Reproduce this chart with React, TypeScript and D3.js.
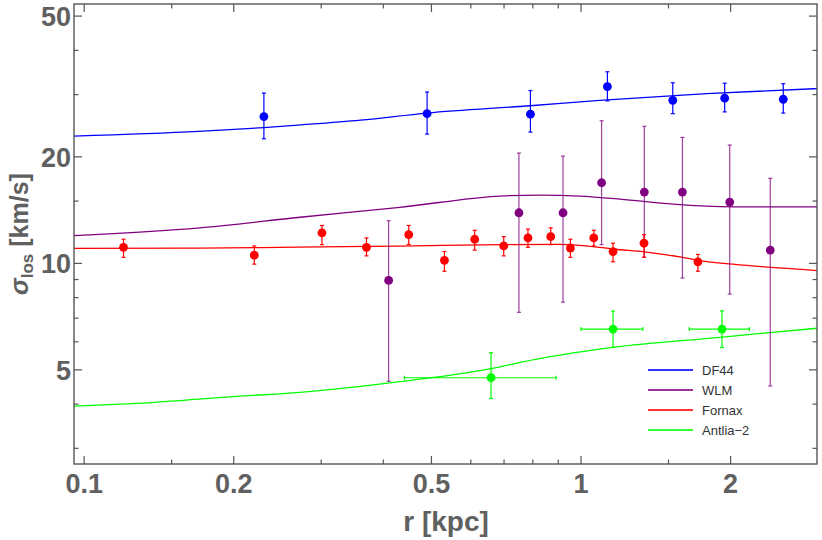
import React from "react";
import * as d3 from "d3";

// ---------- data ----------
const df44R = [0.23, 0.49, 0.791, 1.13, 1.53, 1.946, 2.553];
const df44V = [26.0, 26.5, 26.4, 31.6, 28.9, 29.3, 29.1];
const df44Lo = [22.5, 23.2, 23.5, 28.8, 26.5, 26.8, 26.6];
const df44Hi = [30.3, 30.5, 30.8, 34.8, 32.4, 32.3, 32.2];

const wlmR = [0.41, 0.75, 0.92, 1.1, 1.341, 1.6, 1.992, 2.404];
const wlmV = [8.95, 13.9, 13.9, 16.9, 15.9, 15.9, 14.9, 10.9];
const wlmLo = [4.64, 7.27, 7.77, 11.3, 10.4, 9.09, 8.19, 4.5];
const wlmHi = [13.2, 20.5, 20.1, 25.3, 24.4, 22.7, 21.6, 17.4];

const fornaxR = [0.12, 0.22, 0.301, 0.37, 0.45, 0.531, 0.611, 0.699, 0.782, 0.869, 0.952, 1.061, 1.16, 1.339, 1.719];
const fornaxV = [11.1, 10.55, 12.2, 11.1, 12.05, 10.2, 11.7, 11.2, 11.8, 11.9, 11.05, 11.8, 10.8, 11.4, 10.1];
const fornaxLo = [10.4, 9.95, 11.3, 10.5, 11.3, 9.5, 10.9, 10.5, 11.1, 11.3, 10.4, 11.2, 10.1, 10.4, 9.5];
const fornaxHi = [11.7, 11.2, 12.8, 11.8, 12.8, 10.8, 12.4, 11.9, 12.5, 12.6, 11.7, 12.4, 11.4, 12.05, 10.6];

const antliaR = [0.659, 1.16, 1.922];
const antliaRLo = [0.441, 1.0, 1.652];
const antliaRHi = [0.891, 1.332, 2.182];
const antliaV = [4.75, 6.52, 6.52];
const antliaLo = [4.15, 5.79, 5.78];
const antliaHi = [5.59, 7.33, 7.34];

// model curves
const df44CurveR = [0.095, 0.17, 0.23, 0.27, 0.36, 0.49, 0.79, 1.09, 1.79, 3.0];
const df44CurveV = [22.9, 23.6, 24.2, 24.6, 25.4, 26.6, 27.9, 28.9, 30.2, 31.2];
const wlmCurveR = [0.095, 0.171, 0.272, 0.432, 0.687, 0.827, 0.995, 1.198, 1.531, 2.022, 3.0];
const wlmCurveV = [11.97, 12.6, 13.5, 14.4, 15.5, 15.6, 15.5, 15.2, 14.7, 14.45, 14.45];
const fornaxCurveR = [0.095, 0.17, 0.27, 0.43, 0.69, 0.91, 1.09, 1.16, 1.34, 1.6, 1.72, 2.02, 3.0];
const fornaxCurveV = [11.03, 11.04, 11.12, 11.19, 11.3, 11.32, 11.1, 10.98, 10.78, 10.4, 10.2, 9.95, 9.54];
const antliaCurveR = [0.095, 0.136, 0.199, 0.272, 0.432, 0.687, 0.754, 1.16, 1.904, 3.0];
const antliaCurveV = [3.95, 4.04, 4.2, 4.32, 4.63, 5.1, 5.25, 5.79, 6.18, 6.56];

const xMajor = [0.1, 0.2, 0.5, 1, 2];
const xMajorLabels = ["0.1", "0.2", "0.5", "1", "2"];
const xMinor = [0.15, 0.3, 0.4, 0.6, 0.7, 0.8, 0.9, 1.5];
const yMajor = [5, 10, 20, 50];
const yMajorLabels = ["5", "10", "20", "50"];
const yMinor = [3, 4, 6, 7, 8, 9, 15, 30, 40];

const legendNames = ["DF44", "WLM", "Fornax", "Antlia\u22122"];
const colors = ["#0000ff", "#800080", "#ff0000", "#00ff00"];

// ---------- layout ----------
const W = 822;
const H = 540;
const L = 74;
const R = 817;
const T = 4;
const B = 464;

const x = d3.scaleLog().domain([0.0954, 2.985]).range([L, R]);
const y = d3.scaleLog().domain([2.709, 54.1]).range([B, T]);

const axisColor = "#555555";
const labelColor = "#606060";
const font = "'Liberation Sans', Arial, sans-serif";

type Pt = [number, number];

function zip(a: number[], b: number[]): Pt[] {
  return a.map((v, i) => [v, b[i]] as Pt);
}

const line = d3
  .line<Pt>()
  .x((d) => x(d[0]))
  .y((d) => y(d[1]))
  .curve(d3.curveMonotoneX);

function ErrSeries(props: {
  r: number[];
  v: number[];
  lo: number[];
  hi: number[];
  color: string;
  barOpacity?: number;
  rlo?: number[];
  rhi?: number[];
}) {
  const { r, v, lo, hi, color, barOpacity = 1, rlo, rhi } = props;
  const cap = 2;
  return (
    <g>
      {r.map((ri, i) => {
        const cx = x(ri);
        const cy = y(v[i]);
        const y1 = y(hi[i]);
        const y2 = y(lo[i]);
        return (
          <g key={i}>
            <g stroke={color} strokeWidth={1.2} strokeOpacity={barOpacity} fill="none">
              <line x1={cx} x2={cx} y1={y1} y2={y2} />
              <line x1={cx - cap} x2={cx + cap} y1={y1} y2={y1} />
              <line x1={cx - cap} x2={cx + cap} y1={y2} y2={y2} />
              {rlo && rhi ? (
                <>
                  <line x1={x(rlo[i])} x2={x(rhi[i])} y1={cy} y2={cy} />
                  <line x1={x(rlo[i])} x2={x(rlo[i])} y1={cy - cap} y2={cy + cap} />
                  <line x1={x(rhi[i])} x2={x(rhi[i])} y1={cy - cap} y2={cy + cap} />
                </>
              ) : null}
            </g>
            <circle cx={cx} cy={cy} r={4.4} fill={color} />
          </g>
        );
      })}
    </g>
  );
}

export default function App() {
  const curves = [
    zip(df44CurveR, df44CurveV),
    zip(wlmCurveR, wlmCurveV),
    zip(fornaxCurveR, fornaxCurveV),
    zip(antliaCurveR, antliaCurveV),
  ];
  const majorLen = 8;
  const minorLen = 4.5;

  return (
    <svg
      width={W}
      height={H}
      viewBox={`0 0 ${W} ${H}`}
      style={{ position: "absolute", left: 0, top: 0, background: "#ffffff" }}
    >
      <rect x={0} y={0} width={W} height={H} fill="#ffffff" />
      <defs>
        <clipPath id="plotClip">
          <rect x={L} y={T} width={R - L} height={B - T} />
        </clipPath>
      </defs>

      {/* curves */}
      <g clipPath="url(#plotClip)" fill="none">
        {curves.map((c, i) => (
          <path key={i} d={line(c) || ""} stroke={colors[i]} strokeWidth={1.3} />
        ))}
      </g>

      {/* data */}
      <g clipPath="url(#plotClip)">
        <ErrSeries r={wlmR} v={wlmV} lo={wlmLo} hi={wlmHi} color={colors[1]} barOpacity={0.75} />
        <ErrSeries r={fornaxR} v={fornaxV} lo={fornaxLo} hi={fornaxHi} color={colors[2]} />
        <ErrSeries r={df44R} v={df44V} lo={df44Lo} hi={df44Hi} color={colors[0]} />
        <ErrSeries
          r={antliaR}
          v={antliaV}
          lo={antliaLo}
          hi={antliaHi}
          rlo={antliaRLo}
          rhi={antliaRHi}
          color={colors[3]}
        />
      </g>

      {/* frame */}
      <rect x={L} y={T} width={R - L} height={B - T} fill="none" stroke={axisColor} strokeWidth={1.4} />

      {/* ticks */}
      <g stroke={axisColor} strokeWidth={1.2}>
        {xMajor.map((t) => (
          <g key={"xM" + t}>
            <line x1={x(t)} x2={x(t)} y1={B} y2={B - majorLen} />
            <line x1={x(t)} x2={x(t)} y1={T} y2={T + majorLen} />
          </g>
        ))}
        {xMinor.map((t) => (
          <g key={"xm" + t}>
            <line x1={x(t)} x2={x(t)} y1={B} y2={B - minorLen} />
            <line x1={x(t)} x2={x(t)} y1={T} y2={T + minorLen} />
          </g>
        ))}
        {yMajor.map((t) => (
          <g key={"yM" + t}>
            <line x1={L} x2={L + majorLen} y1={y(t)} y2={y(t)} />
            <line x1={R} x2={R - majorLen} y1={y(t)} y2={y(t)} />
          </g>
        ))}
        {yMinor.map((t) => (
          <g key={"ym" + t}>
            <line x1={L} x2={L + minorLen} y1={y(t)} y2={y(t)} />
            <line x1={R} x2={R - minorLen} y1={y(t)} y2={y(t)} />
          </g>
        ))}
      </g>

      {/* tick labels */}
      <g fontFamily={font} fontWeight="bold" fontSize={27} fill={labelColor}>
        {xMajor.map((t, i) => (
          <text key={"xl" + t} x={x(t)} y={492.5} textAnchor="middle">
            {xMajorLabels[i]}
          </text>
        ))}
        {yMajor.map((t, i) => (
          <text key={"yl" + t} x={71} y={y(t) + 9.8} textAnchor="end">
            {yMajorLabels[i]}
          </text>
        ))}
      </g>

      {/* axis titles */}
      <text
        x={446}
        y={531}
        textAnchor="middle"
        fontFamily={font}
        fontWeight="bold"
        fontSize={28}
        fill={labelColor}
      >
        r [kpc]
      </text>
      <text
        transform="translate(28,234) rotate(-90)"
        textAnchor="middle"
        fontFamily={font}
        fontWeight="bold"
        fontSize={25}
        fill={labelColor}
      >
        <tspan fontStyle="italic">σ</tspan>
        <tspan fontSize={17} dy={5}>
          los
        </tspan>
        <tspan dy={-5}> [km/s]</tspan>
      </text>

      {/* legend */}
      <g fontFamily={font} fontSize={13} fill="#333333">
        {legendNames.map((n, i) => {
          const ly = 370 + i * 20;
          return (
            <g key={n}>
              <line x1={648} x2={693} y1={ly} y2={ly} stroke={colors[i]} strokeWidth={1.8} strokeOpacity={0.8} />
              <text x={702} y={ly + 4.5}>
                {n}
              </text>
            </g>
          );
        })}
      </g>
    </svg>
  );
}
